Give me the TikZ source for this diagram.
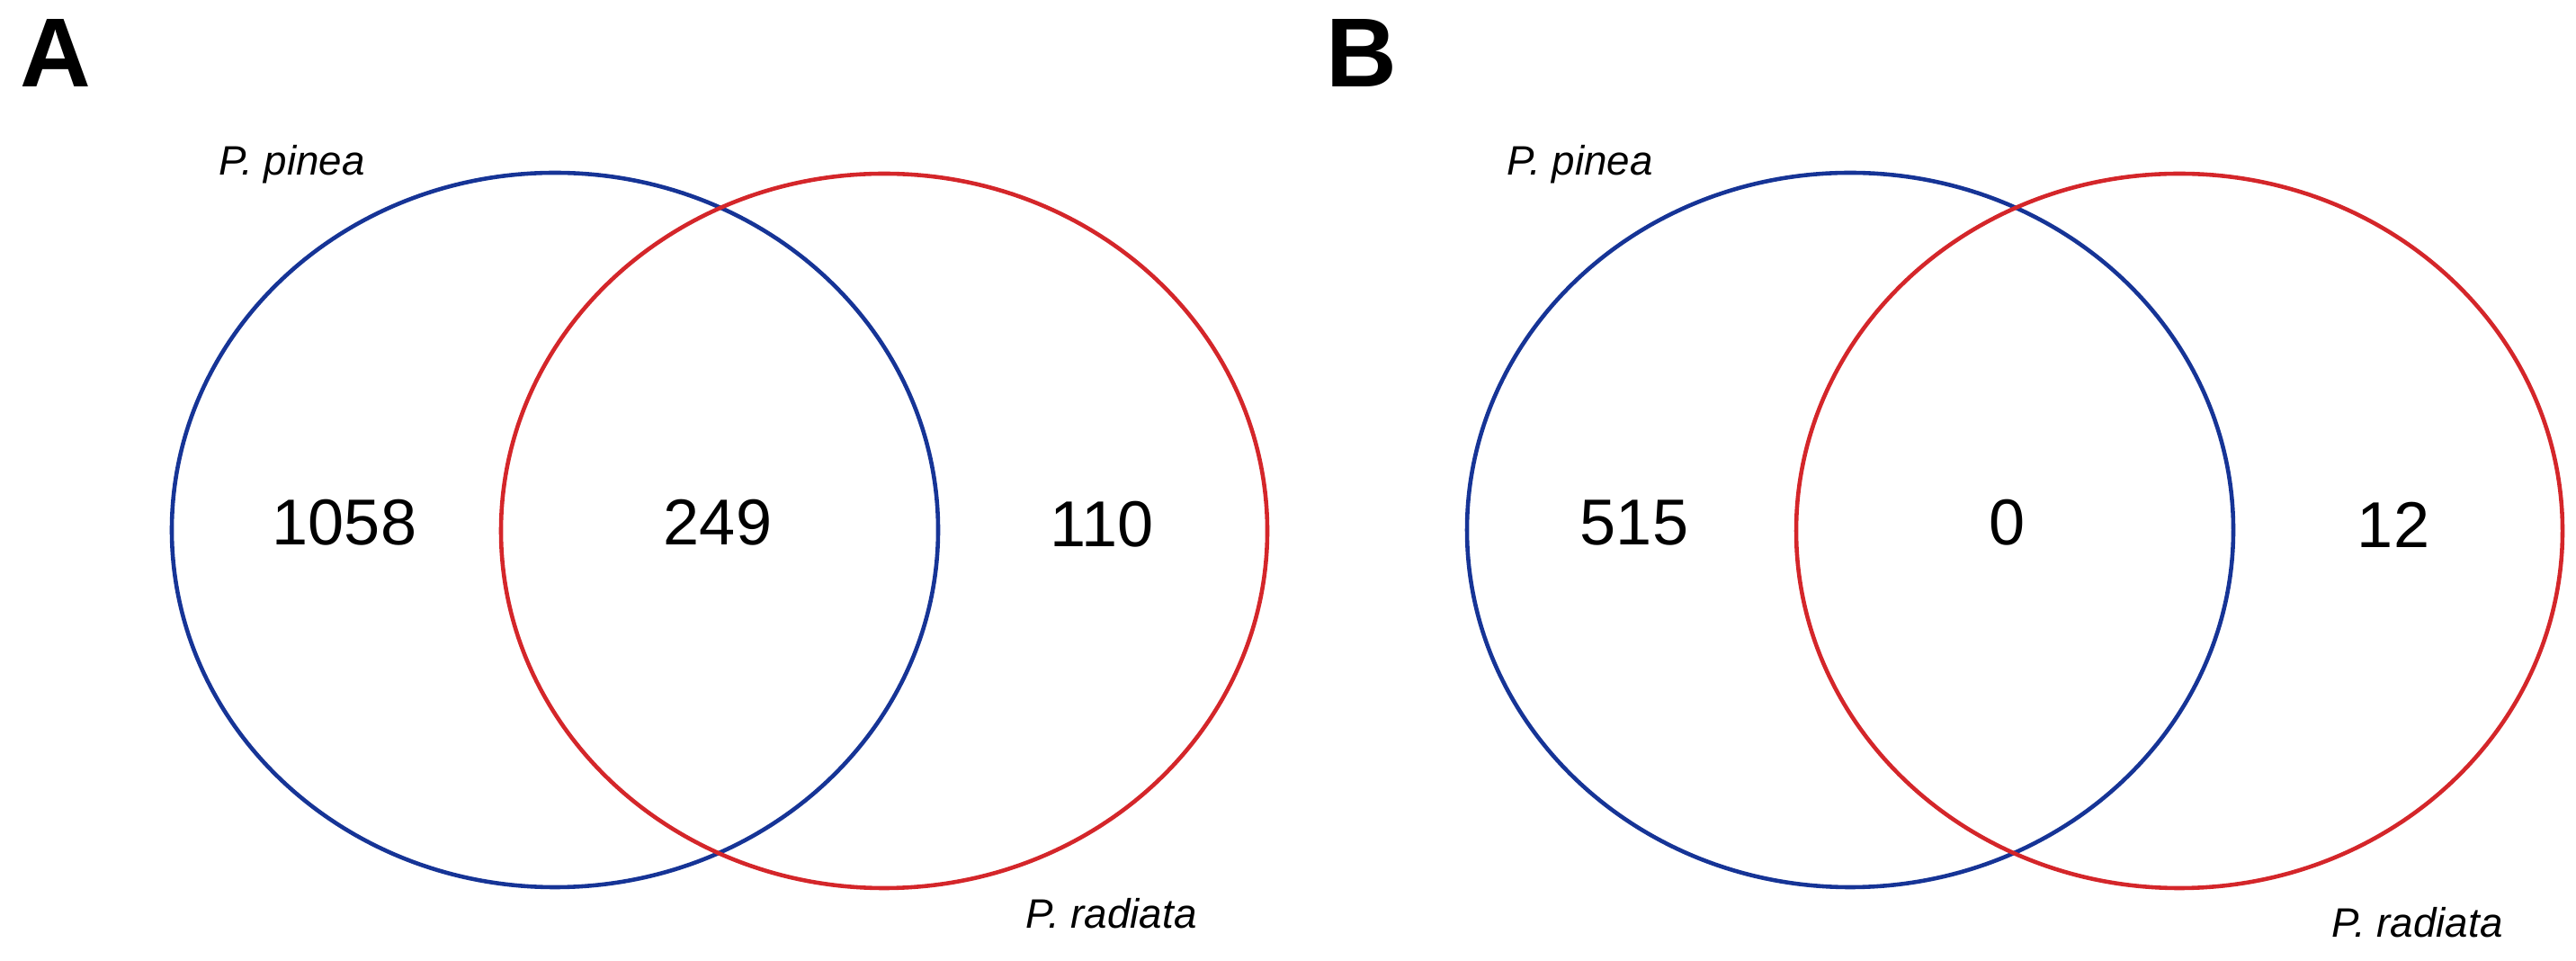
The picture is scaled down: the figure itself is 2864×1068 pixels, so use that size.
\documentclass[tikz,border=0pt]{standalone}
\usepackage{fontspec}
\setmainfont{Liberation Sans}
\definecolor{vblue}{RGB}{22,52,150}
\definecolor{vred}{RGB}{212,38,42}
\begin{document}
\begin{tikzpicture}[x=0.01cm,y=-0.01cm,
  setA/.style={draw=vblue,line width=1.3pt},
  setB/.style={draw=vred,line width=1.3pt},
  count/.style={inner sep=0pt,font=\fontsize{20.5}{24}\selectfont},
  species/.style={inner sep=0pt,anchor=base west,font=\fontsize{13}{15}\selectfont\itshape},
  panel/.style={inner sep=0pt,anchor=base west,font=\fontsize{31}{36}\selectfont\bfseries}]
\useasboundingbox (0,0) rectangle (2864,1068);
% Panel A
\node[panel] (labA) at (22,97) {A};
\draw[setA] (617,589) ellipse [x radius=426, y radius=397];
\draw[setB] (983,590) ellipse [x radius=426, y radius=397];
\node[species] (pinA) at (243,195) {P. pinea};
\node[species] (radA) at (1140,1032) {P. radiata};
\node[count] (a1) at (383,581) {1058};
\node[count] (a2) at (798,581) {249};
\node[count] (a3) at (1225,583) {110};
% Panel B
\node[panel] (labB) at (1474,97) {B};
\draw[setA] (2057,589) ellipse [x radius=426, y radius=397];
\draw[setB] (2423,590) ellipse [x radius=426, y radius=397];
\node[species] (pinB) at (1675,195) {P. pinea};
\node[species] (radB) at (2592,1042) {P. radiata};
\node[count] (b1) at (1817,581) {515};
\node[count] (b2) at (2232,581) {0};
\node[count] (b3) at (2661,583) {12};
\end{tikzpicture}
\end{document}
